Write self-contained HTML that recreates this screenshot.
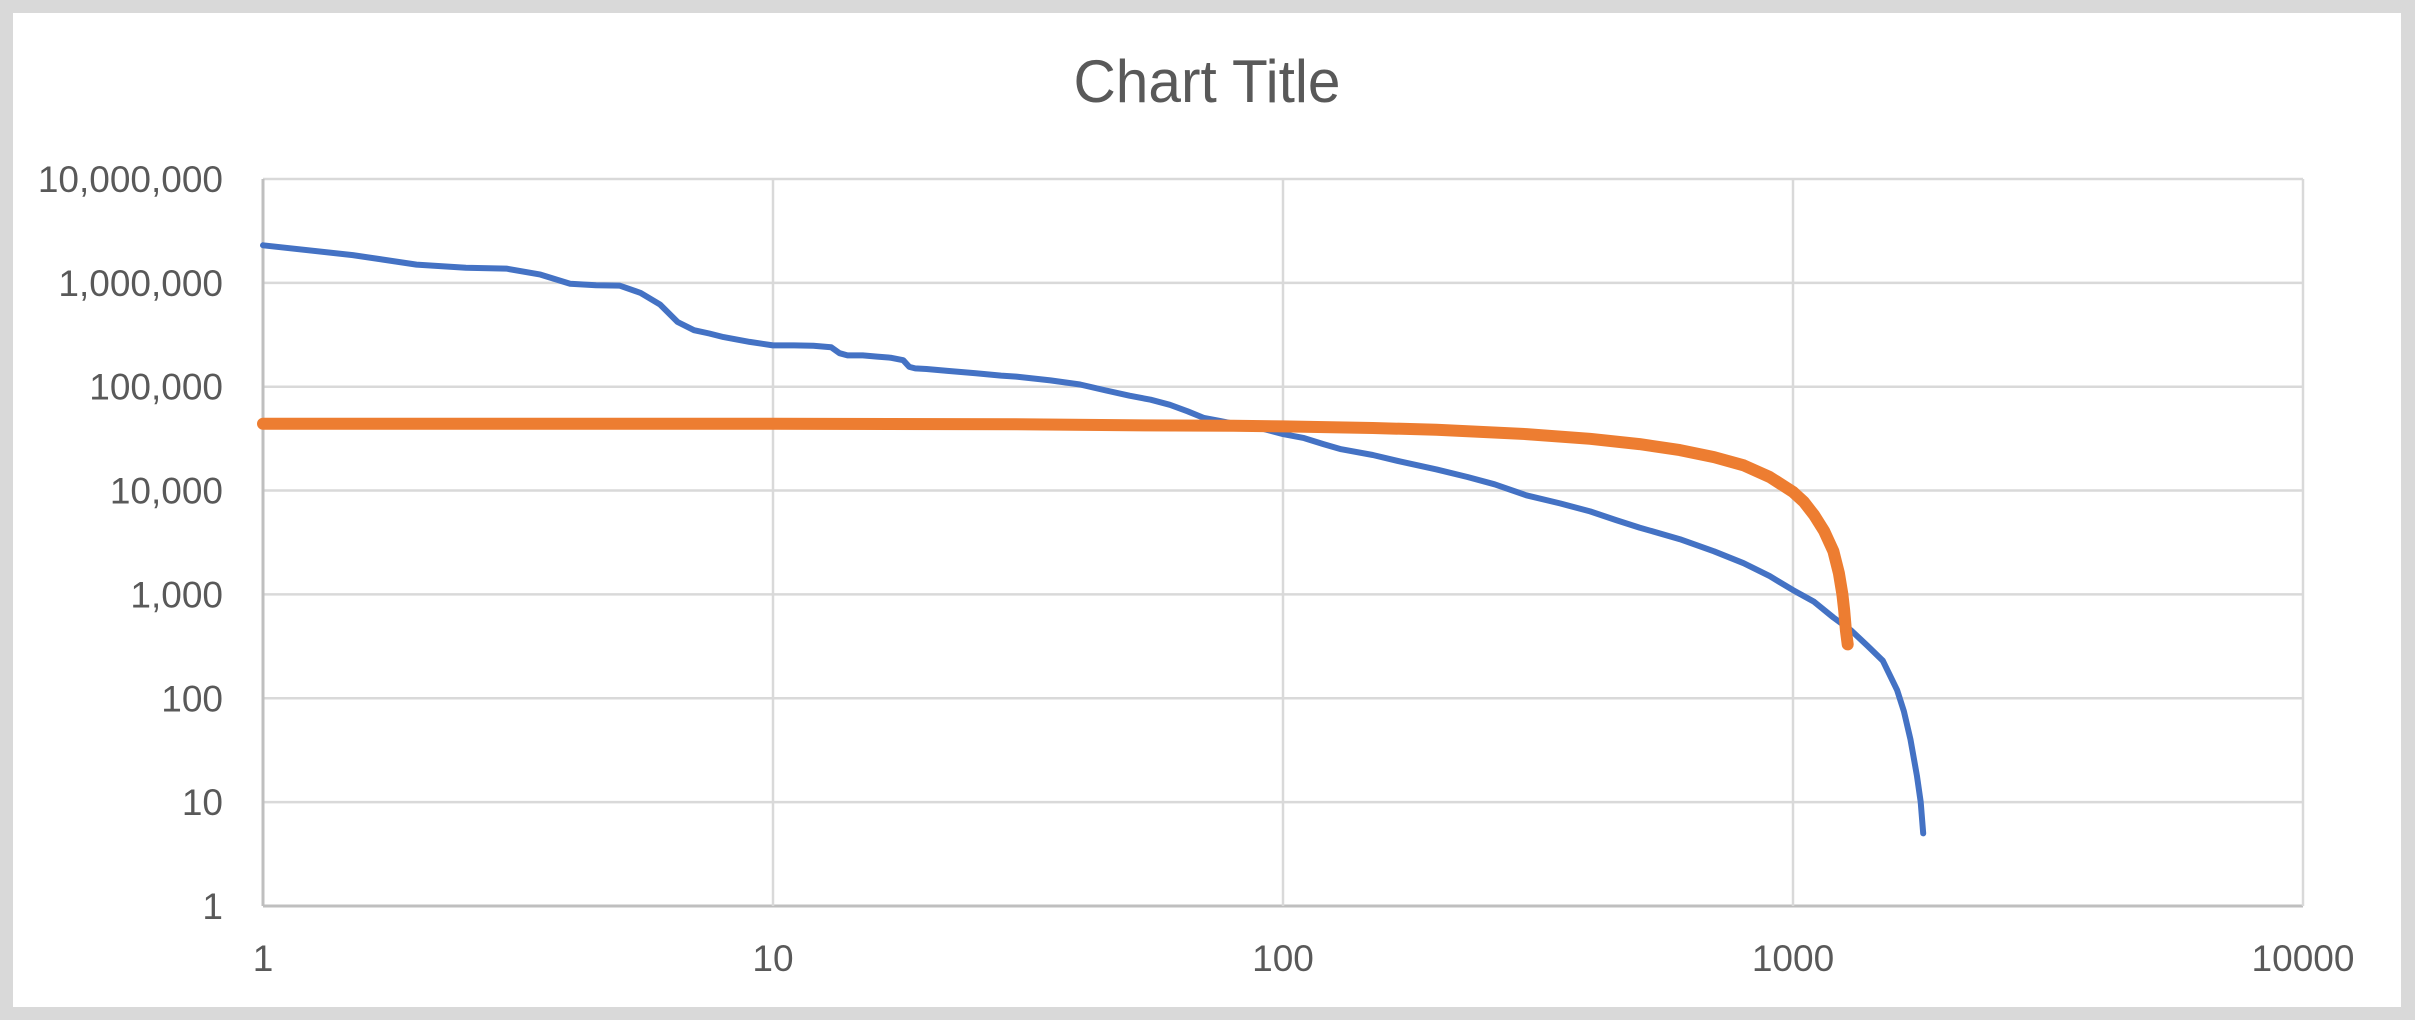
<!DOCTYPE html>
<html><head><meta charset="utf-8"><style>
html,body{margin:0;padding:0;background:#d9d9d9;}
svg{display:block;font-family:"Liberation Sans",sans-serif;}
</style></head><body>
<svg width="2415" height="1020">
<rect x="13" y="13" width="2388" height="994" fill="#fff"/>
<text x="1207" y="102" font-size="60" fill="#595959" text-anchor="middle" textLength="267" lengthAdjust="spacingAndGlyphs">Chart Title</text>
<g id="grid"></g><g id="ticks"></g><g id="series"></g>
</svg>
<script>
const xTicks=[1,10,100,1000,10000];
const xTickLabels=["1","10","100","1000","10000"];
const yTicks=[1,10,100,1000,10000,100000,1000000,10000000];
const yTickLabels=["1","10","100","1,000","10,000","100,000","1,000,000","10,000,000"];
const blueX=[1,1.5,2,2.5,3,3.5,4,4.5,5,5.5,6,6.5,7,7.5,8,9,10,11,12,13,13.5,14,15,16,17,18,18.5,19,20,22,25,28,30,35,40,45,50,55,60,65,70,75,80,90,100,110,120,130,150,170,200,230,260,300,350,400,450,500,600,700,800,900,1000,1100,1200,1300,1400,1500,1600,1650,1700,1750,1780,1800];
const blueY=[2300000,1850000,1500000,1400000,1370000,1200000,980000,950000,940000,800000,620000,420000,350000,325000,300000,270000,250000,250000,248000,240000,210000,200000,200000,195000,190000,180000,155000,150000,148000,142000,135000,128000,125000,115000,105000,92000,82000,75000,67000,58000,50000,47000,44000,40000,35000,32000,28000,25000,22000,19000,16000,13500,11500,9000,7500,6300,5200,4400,3400,2600,2000,1500,1100,850,600,450,320,230,120,75,40,18,10,5];
const orangeX=[1,10,30,50,80,100,150,200,300,400,500,600,700,800,900,1000,1050,1100,1150,1200,1230,1250,1260,1270,1280];
const orangeY=[44000,44000,43500,42500,42000,41500,40000,38500,35000,31500,28000,24500,21000,17500,13500,9700,7800,5800,4100,2600,1600,1000,700,450,330];
const X0=263,XD=510,YB=906,YD=103.86;
const xs=v=>X0+Math.log10(v)*XD, ys=v=>YB-Math.log10(v)*YD;
const NS="http://www.w3.org/2000/svg";
const grid=document.getElementById('grid'),ticks=document.getElementById('ticks'),ser=document.getElementById('series');
function mk(tag,attrs,parent){const e=document.createElementNS(NS,tag);for(const k in attrs)e.setAttribute(k,attrs[k]);parent.appendChild(e);return e;}
yTicks.forEach((t,i)=>{
 const l=mk('line',{x1:X0,x2:xs(10000),y1:ys(t),y2:ys(t),stroke:i==0?'#bfbfbf':'#d9d9d9','stroke-width':i==0?3:2.5},grid);
 
 
 const tx=mk('text',{x:223,y:ys(t)+13,'font-size':37,fill:'#595959','text-anchor':'end'},ticks);
 tx.textContent=yTickLabels[i];
 
 
});
xTicks.forEach((t,i)=>{
 const l=mk('line',{x1:xs(t),x2:xs(t),y1:ys(10000000),y2:YB,stroke:i==0?'#bfbfbf':'#d9d9d9','stroke-width':i==0?3:2.5},grid);
 
 
 const tx=mk('text',{x:xs(t),y:971,'font-size':37,fill:'#595959','text-anchor':'middle'},ticks);
 tx.textContent=xTickLabels[i];
 
 
});
function path(xa,ya){return xa.map((x,i)=>(i?'L':'M')+xs(x).toFixed(1)+','+ys(ya[i]).toFixed(1)).join('');}
const b=mk('path',{d:path(blueX,blueY),fill:'none',stroke:'#4472c4','stroke-width':6,'stroke-linejoin':'round','stroke-linecap':'round'},ser);


const o=mk('path',{d:path(orangeX,orangeY),fill:'none',stroke:'#ed7d31','stroke-width':12,'stroke-linejoin':'round','stroke-linecap':'round'},ser);


</script>
</body></html>
